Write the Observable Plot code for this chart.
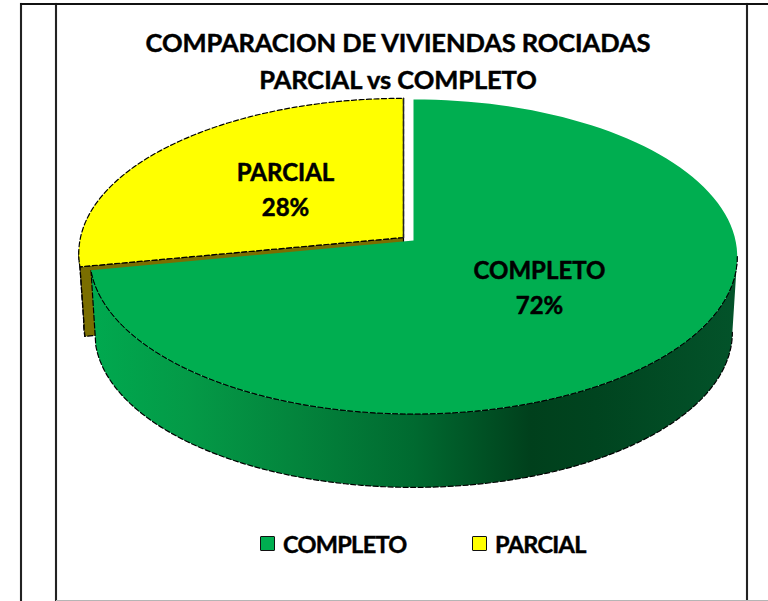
<!DOCTYPE html>
<html lang="es">
<head>
<meta charset="utf-8">
<script src="https://cdn.jsdelivr.net/npm/d3@7"></script>
<script src="https://cdn.jsdelivr.net/npm/@observablehq/plot@0.6"></script>
<style>
html,body{margin:0;padding:0;background:#fff;overflow:hidden}
#page{position:relative;width:768px;height:601px;font-family:Lato,Carlito,sans-serif;color:#000;overflow:hidden}
#page svg{position:absolute;left:0;top:0;background:transparent}
.v{position:absolute;top:3px;bottom:0;width:2px;background:#222;box-shadow:0 0 1px #888}
.h{position:absolute;height:2px}
#title{position:absolute;left:0;top:23.5px;width:796px;text-align:center;font-weight:700;font-size:25.5px;line-height:37px;letter-spacing:-.1px;-webkit-text-stroke:.45px #000}
.lg{position:absolute;top:530px;font-weight:700;font-size:23.5px;line-height:28px;letter-spacing:-.7px;white-space:nowrap;-webkit-text-stroke:.45px #000}
.sw{position:absolute;top:536px;width:13px;height:13px;border:1.5px solid #111;border-radius:1px}
</style>
</head>
<body>
<div id="page">
  <div class="v" style="left:20px"></div>
  <div class="v" style="left:55px"></div>
  <div class="v" style="left:746px"></div>
  <div class="h" style="left:20px;right:0;top:3px;background:#111"></div>
  <div class="h" style="left:56px;right:0;top:600px;height:1px;background:#b5b5b5"></div>
  <div id="title"></div>
  <div id="legend"></div>
</div>
<script>
const titleLines = ["COMPARACION DE VIVIENDAS ROCIADAS", "PARCIAL vs COMPLETO"];
const categories = ["COMPLETO", "PARCIAL"];
const percents = [72, 28];
const topColors = ["#00ae50", "#ffff00"];

const total = d3.sum(percents);
const endAngle = 2 * Math.PI * percents[0] / total;

const green = {cx: 413, cy: 240, a: 322, b: 155.6, k: 0.103, drop: 76, shrink: 0.985};
const yellow = {cx: 403, cy: 237, a: 323, b: 153.5, k: 0.103, drop: 70, shrink: 0.985};

function pt(s, t, low) {
  const f = low ? s.shrink : 1;
  const w = 1 + s.k * Math.cos(t);
  return {
    x: s.cx + s.a * f * Math.sin(t) / w,
    y: s.cy + (low ? s.drop : 0) - s.b * f * Math.cos(t) / w
  };
}
const arc = (s, t0, t1, low) => d3.range(0, 121).map(i => pt(s, t0 + (t1 - t0) * i / 120, low));
const apex = (s, low) => ({x: s.cx, y: s.cy + (low ? s.drop : 0)});

const greenTop = [apex(green), ...arc(green, 0, endAngle), apex(green)];
const yellowTop = [apex(yellow), ...arc(yellow, endAngle, 2 * Math.PI), apex(yellow)];
const wallStart = Math.PI / 2 + green.k;
const greenWall = [...arc(green, wallStart, endAngle), ...arc(green, endAngle, wallStart, true)];
const yellowInner = [apex(yellow), pt(yellow, endAngle), pt(yellow, endAngle, true), apex(yellow, true), apex(yellow)];
const yellowOuter = [...arc(yellow, endAngle, endAngle + 0.1), ...arc(yellow, endAngle + 0.1, endAngle, true)];
const yellowEdge = [apex(yellow), pt(yellow, 2 * Math.PI)];

const wallStops = [
  [0, "#00a94f"], [0.15, "#049a47"], [0.32, "#03843c"], [0.5, "#006a30"],
  [0.68, "#00401c"], [0.78, "#00441f"], [1, "#03532a"]
];

const defs = () => {
  const ns = "http://www.w3.org/2000/svg";
  const d = document.createElementNS(ns, "defs");
  const g = document.createElementNS(ns, "linearGradient");
  g.setAttribute("id", "wall");
  wallStops.forEach(([o, c]) => {
    const st = document.createElementNS(ns, "stop");
    st.setAttribute("offset", o);
    st.setAttribute("stop-color", c);
    g.appendChild(st);
  });
  d.appendChild(g);
  return d;
};

const labels = [
  {name: categories[0], pct: percents[0], x: 539, y: 285},
  {name: categories[1], pct: percents[1], x: 285, y: 187}
];
const outline = {x: "x", y: "y", stroke: "#000", strokeWidth: 1.2, strokeDasharray: "5,2.5"};

const chart = Plot.plot({
  width: 768, height: 601, margin: 0,
  x: {domain: [0, 768], range: [0, 768], axis: null},
  y: {domain: [0, 601], range: [0, 601], axis: null},
  marks: [
    defs,
    Plot.line(yellowInner, {...outline, fill: "#7a6e00"}),
    Plot.line(yellowOuter, {...outline, fill: "#7a6e00"}),
    Plot.line(greenWall, {...outline, fill: "url(#wall)"}),
    Plot.line(greenTop, {x: "x", y: "y", fill: topColors[0], stroke: "none"}),
    Plot.line(arc(green, wallStart, endAngle), {...outline, strokeWidth: 1}),
    Plot.line(yellowTop, {...outline, fill: topColors[1]}),
    Plot.line(yellowEdge, {x: "x", y: "y", stroke: "#222", strokeWidth: 1.5}),
    Plot.text(labels, {
      x: "x", y: "y", text: d => `${d.name}\n${d.pct}%`,
      fontFamily: "Lato, Carlito, sans-serif", fontWeight: 700, fontSize: 24,
      lineHeight: 1.46, fill: "#000", stroke: "#000", strokeWidth: 0.5, textAnchor: "middle"
    })
  ]
});
const page = document.getElementById("page");
page.insertBefore(chart, document.getElementById("title"));

document.getElementById("title").innerHTML = titleLines.join("<br>");

const lg = document.getElementById("legend");
const lgPos = [{sw: 260, tx: 283}, {sw: 472, tx: 495}];
categories.forEach((c, i) => {
  const s = document.createElement("div");
  s.className = "sw";
  s.style.left = lgPos[i].sw + "px";
  s.style.background = topColors[i];
  lg.appendChild(s);
  const t = document.createElement("div");
  t.className = "lg";
  t.style.left = lgPos[i].tx + "px";
  t.textContent = c;
  lg.appendChild(t);
});
</script>
</body>
</html>
